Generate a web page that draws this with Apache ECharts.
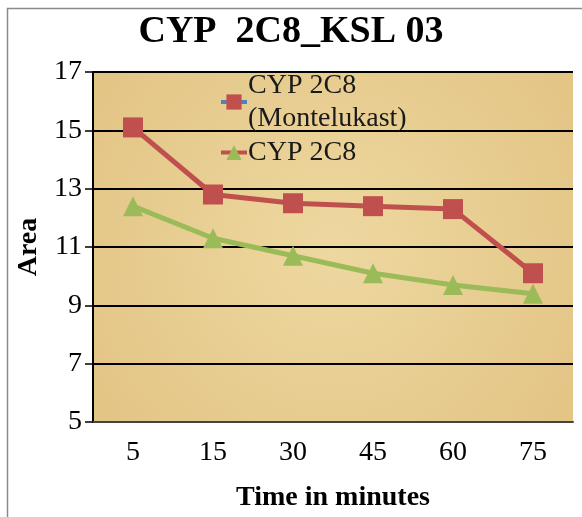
<!DOCTYPE html>
<html><head><meta charset="utf-8">
<script src="https://cdn.jsdelivr.net/npm/echarts@6/dist/echarts.min.js"></script>
<style>html,body{margin:0;padding:0;background:#fff}#c{width:582px;height:517px}</style>
</head><body><div id="c"></div>
<script>
const categories = ['5', '15', '30', '45', '60', '75'];
const montelukast = [15.1, 12.8, 12.5, 12.4, 12.3, 10.1];
const cyp2c8 = [12.4, 11.3, 10.7, 10.1, 9.7, 9.4];
const seriesNames = ['CYP 2C8\n(Montelukast)', 'CYP 2C8'];
const titleText = 'CYP  2C8_KSL 03';

const serif = '"Liberation Serif", "Times New Roman", serif';
const chart = echarts.init(document.getElementById('c'), null, {renderer: 'canvas'});
chart.setOption({
  animation: false,
  backgroundColor: '#fff',
  title: {text: titleText, left: 'center', top: 8,
    textStyle: {fontFamily: serif, fontSize: 38, fontWeight: 'bold', color: '#000'}},
  graphic: [{type: 'rect', shape: {x: 7.5, y: 8.5, width: 600, height: 540},
    style: {fill: 'none', stroke: '#8a8a8a', lineWidth: 1.5}, z: -1}],
  grid: {left: 93, right: 9, top: 72, bottom: 93, show: true,
    backgroundColor: {type: 'radial', x: 0.5, y: 0.5, r: 0.8,
      colorStops: [{offset: 0, color: '#eed8a0'}, {offset: 1, color: '#e3c586'}]},
    borderWidth: 0},
  legend: {
    orient: 'vertical', left: 214, top: 64, itemGap: 1, itemWidth: 26, itemHeight: 19,
    itemStyle: {}, 
    textStyle: {fontFamily: serif, fontSize: 28, color: '#1a1a1a', lineHeight: 33, padding: [0, 0, 0, -4]},
    data: [
      {name: seriesNames[0], itemStyle: {color: '#c0504d'}, lineStyle: {color: '#4f81bd', width: 4}},
      {name: seriesNames[1], itemStyle: {color: '#9bbb59'}, lineStyle: {color: '#c0504d', width: 4}}
    ]
  },
  xAxis: {
    type: 'category', data: categories, boundaryGap: true,
    name: 'Time in minutes', nameLocation: 'middle', nameGap: 62,
    nameTextStyle: {fontFamily: serif, fontSize: 28, fontWeight: 'bold', color: '#000'},
    axisLine: {lineStyle: {color: '#444', width: 2}},
    axisTick: {show: false},
    axisLabel: {fontFamily: serif, fontSize: 28, color: '#000', margin: 17}
  },
  yAxis: {
    type: 'value', min: 5, max: 17, interval: 2,
    name: 'Area', nameLocation: 'middle', nameGap: 49, nameRotate: 90,
    nameTextStyle: {fontFamily: serif, fontSize: 28, fontWeight: 'bold', color: '#000'},
    axisLine: {show: true, lineStyle: {color: '#000', width: 2}},
    axisTick: {show: true, length: 8, lineStyle: {color: '#000', width: 1.5}},
    axisLabel: {fontFamily: serif, fontSize: 28, color: '#000', margin: 11},
    splitLine: {lineStyle: {color: '#000', width: 2}}
  },
  series: [
    {name: seriesNames[0], type: 'line', data: montelukast, symbol: 'rect', symbolSize: 20,
      lineStyle: {color: '#c0504d', width: 5}, itemStyle: {color: '#c0504d'}},
    {name: seriesNames[1], type: 'line', data: cyp2c8, symbol: 'triangle', symbolSize: 20,
      lineStyle: {color: '#9bbb59', width: 5}, itemStyle: {color: '#9bbb59'}}
  ]
});
</script></body></html>
